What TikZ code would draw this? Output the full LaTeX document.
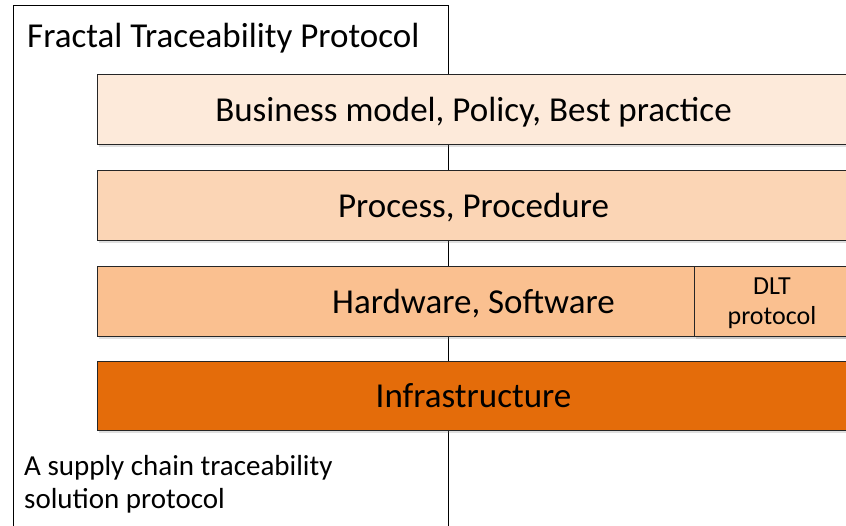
\documentclass[tikz,border=0pt]{standalone}
\usepackage{fontspec}
\setmainfont{Carlito}
\usetikzlibrary{shadows}

\definecolor{bandA}{HTML}{FDEADA}
\definecolor{bandB}{HTML}{FBD5B5}
\definecolor{bandC}{HTML}{FAC090}
\definecolor{bandD}{HTML}{E46C0A}

\tikzset{
  layer/.style={draw=black!85, line width=0.9pt, inner sep=0pt,
    minimum width=753pt, minimum height=70pt, text depth=0pt,
    drop shadow={opacity=0.25, shadow xshift=1.5pt, shadow yshift=-2.5pt},
    font=\fontsize{35}{42}\selectfont},
}

\begin{document}
\begin{tikzpicture}[x=1pt, y=-1pt]
\useasboundingbox (0,0) rectangle (846,525);

% Outer protocol frame
\draw[line width=0.9pt] (13,5) rectangle (448,540);
\node[anchor=base west, inner sep=0pt, font=\fontsize{35}{42}\selectfont] (title) at (27,47) {Fractal Traceability Protocol};

% Layers
\node[layer, fill=bandA] (business) at (473.5,109) {Business model, Policy, Best practice};
\node[layer, fill=bandB] (process) at (473.5,205) {Process, Procedure};
\node[layer, fill=bandC] (hardware) at (473.5,301) {Hardware, Software};
\node[layer, fill=bandC, minimum width=156pt, align=center,
      font=\fontsize{26}{30}\selectfont] (dlt) at (772,301) {DLT\\protocol};
\node[layer, fill=bandD, minimum height=69pt] (infra) at (473.5,395.5) {Infrastructure};

% Caption
\node[anchor=base west, inner sep=0pt, align=left, font=\fontsize{29}{33}\selectfont] (caption) at (24,508) {A supply chain traceability\\solution protocol};

\end{tikzpicture}
\end{document}
